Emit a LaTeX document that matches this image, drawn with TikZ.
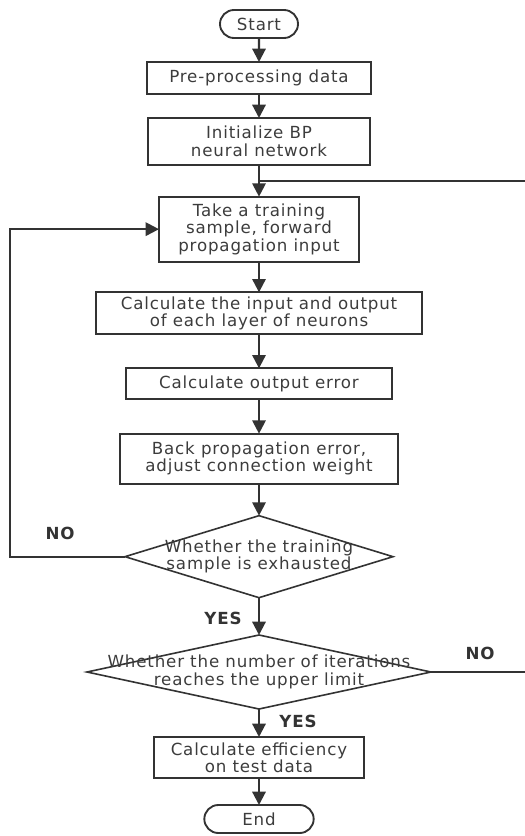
\documentclass[tikz,border=0pt]{standalone}
\usepackage{fontspec}
\setmainfont{DejaVu Sans}[LetterSpace=5]
\usepackage{tikz}
\usetikzlibrary{shapes.geometric,shapes.misc,arrows.meta,positioning,calc}
\definecolor{ink}{HTML}{333333}
\definecolor{txt}{HTML}{3C3C3C}

\begin{document}
\begin{tikzpicture}[x=0.75pt, y=-0.75pt,
    box/.style={draw=ink, line width=1.4pt, rectangle, align=center, text=txt,
                font=\fontsize{12.5}{13}\selectfont, inner sep=0pt, outer sep=0pt},
    term/.style={box, rounded rectangle},
    dec/.style={draw=ink, line width=1.2pt, diamond, inner sep=0pt, outer sep=0pt},
    dtext/.style={align=center, text=txt, font=\fontsize{12.5}{13}\selectfont},
    arr/.style={-{Triangle[length=10pt,width=10pt]}, draw=ink, line width=1.6pt},
    wire/.style={draw=ink, line width=1.6pt},
    lbl/.style={font=\fontsize{12.5}{13}\selectfont\bfseries, text=ink},
    node distance=18pt
  ]
    \useasboundingbox (0,0) rectangle (525,836);

    \node[term, minimum width=58.5pt, minimum height=21pt] (start) at (259,24) {Start};
    \node[box, minimum width=168pt, minimum height=24pt, below=18pt of start] (pre) {Pre-processing data};
    \node[box, minimum width=166.5pt, minimum height=35pt, below=18pt of pre] (init) {Initialize BP\\neural network};
    \node[box, minimum width=150pt, minimum height=48.75pt, below=24pt of init] (take) {Take a training\\sample, forward\\propagation input};
    \node[box, minimum width=244.5pt, minimum height=31.5pt, below=23pt of take] (calc) {Calculate the input and output\\of each layer of neurons};
    \node[box, minimum width=199pt, minimum height=23pt, below=25.5pt of calc] (err) {Calculate output error};
    \node[box, minimum width=208pt, minimum height=37.5pt, below=26pt of err] (back) {Back propagation error,\\adjust connection weight};
    \node[dec, minimum width=201pt, minimum height=61.5pt, below=24pt of back,
          label={[dtext]center:{Whether the training\\sample is exhausted}}] (chk1) {};
    \node[dec, minimum width=258pt, minimum height=55.5pt, below=28pt of chk1,
          label={[dtext]center:{Whether the number of iterations\\reaches the upper limit}}] (chk2) {};
    \node[box, minimum width=158pt, minimum height=31pt, below=21pt of chk2] (eff) {Calculate efficiency\\on test data};
    \node[term, minimum width=82pt, minimum height=21pt, below=20pt of eff] (end) {End};

    \draw[arr] (start) -- (pre);
    \draw[arr] (pre) -- (init);
    \draw[arr] (init) -- (take);
    \draw[arr] (take) -- (calc);
    \draw[arr] (calc) -- (err);
    \draw[arr] (err) -- (back);
    \draw[arr] (back) -- (chk1);
    \draw[arr] (chk1) -- (chk2);
    \draw[arr] (chk2) -- (eff);
    \draw[arr] (eff) -- (end);

    % loops back
    \draw[arr] (chk1.west) -- ++(-115,0) |- (take.west);
    \draw[wire] (chk2.east) -- ++(140,0) |- ($(init.south)!0.5!(take.north)$);

    \node[lbl] (no1) at (60,533) {NO};
    \node[lbl] (yes1) at (223,618) {YES};
    \node[lbl] (no2) at (480,653) {NO};
    \node[lbl] (yes2) at (298,721) {YES};
\end{tikzpicture}
\end{document}
